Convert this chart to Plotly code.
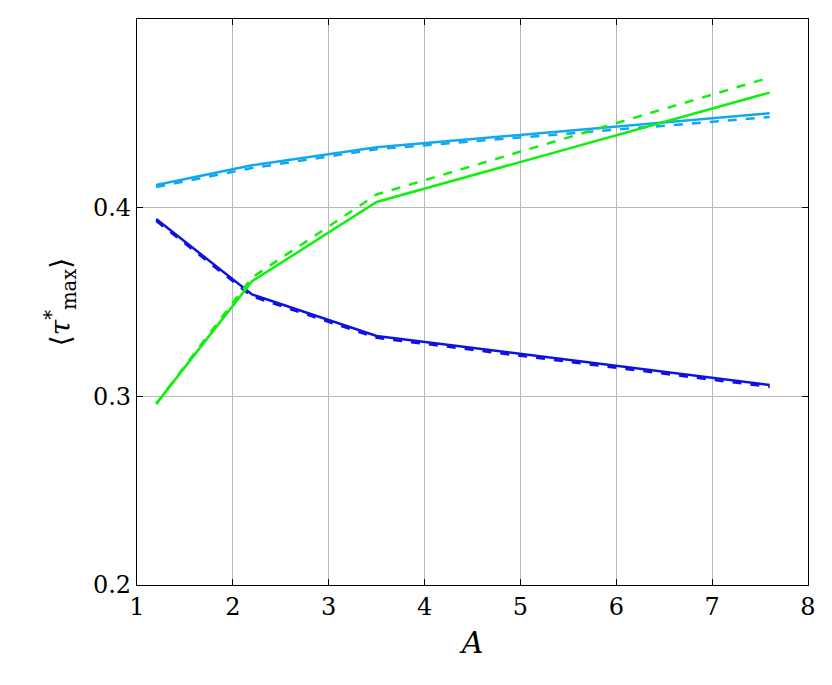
import plotly.graph_objects as go

A = [1.2, 2.2, 3.5, 7.6]
blue_solid = [0.394, 0.354, 0.332, 0.306]
blue_dash = [0.393, 0.353, 0.331, 0.305]
cyan_solid = [0.412, 0.4225, 0.432, 0.450]
cyan_dash = [0.411, 0.421, 0.431, 0.448]
green_solid = [0.296, 0.361, 0.403, 0.461]
green_dash = [0.296, 0.363, 0.407, 0.469]

series = [
    (blue_solid, "#1010e0", "solid"),
    (blue_dash, "#1010e0", "dash"),
    (cyan_solid, "#10a8f0", "solid"),
    (cyan_dash, "#10a8f0", "dash"),
    (green_solid, "#10f010", "solid"),
    (green_dash, "#10f010", "dash"),
]

fig = go.Figure()
for ys, c, d in series:
    fig.add_trace(go.Scatter(x=A, y=ys, mode="lines", line=dict(color=c, width=2.5, dash=d), showlegend=False))

font = dict(family="DejaVu Serif", size=24, color="black")
axis = dict(showline=True, linecolor="black", linewidth=1.2, mirror="ticks", ticks="inside",
            ticklen=6, tickcolor="black", showgrid=True, gridcolor="#b8b8b8", gridwidth=1, zeroline=False)
fig.update_layout(
    width=832, height=685, plot_bgcolor="white", paper_bgcolor="white",
    margin=dict(l=129, r=32, t=11, b=108), font=font,
    xaxis=dict(range=[1, 8], dtick=1, title=dict(text="<i>A</i>", font=dict(size=30), standoff=12), **axis),
    yaxis=dict(range=[0.2, 0.5], tickvals=[0.2, 0.3, 0.4, 0.5], ticktext=["0.2", "0.3", "0.4", "0.5"],
               title=dict(text="⟨<i>τ</i><sup>*</sup><sub>max</sub>⟩", font=dict(size=28), standoff=14), **axis),
)
fig.write_html("out.html")
